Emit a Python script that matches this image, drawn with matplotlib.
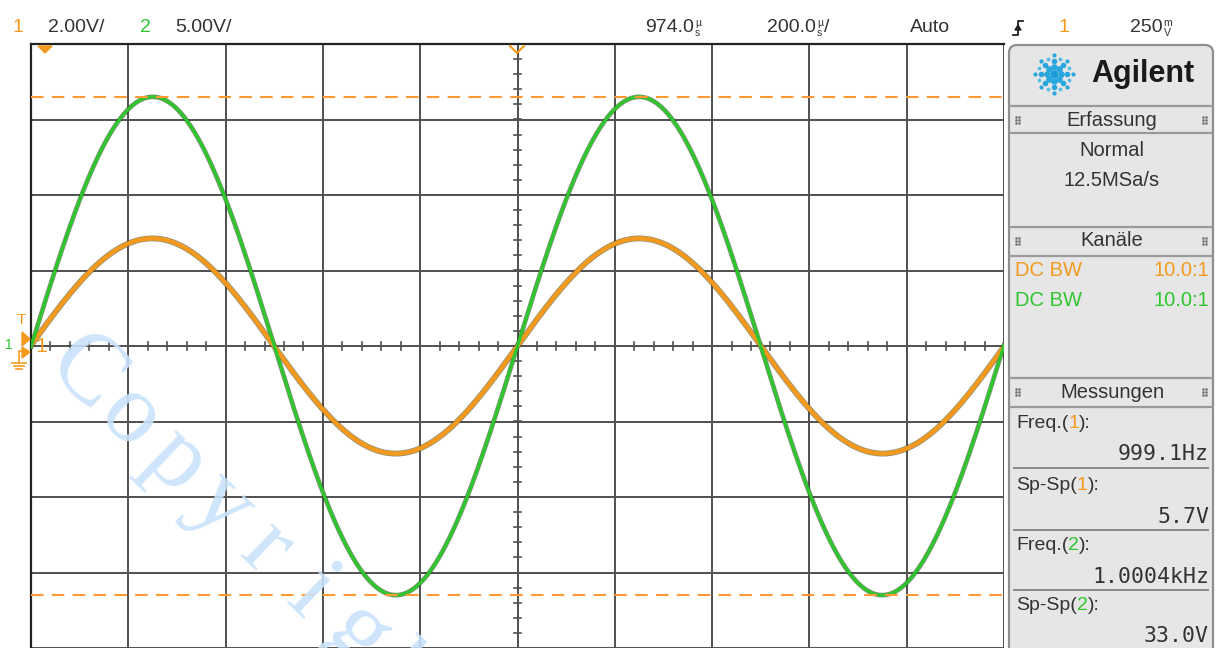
import numpy as np
import matplotlib
matplotlib.use("Agg")
import matplotlib.pyplot as plt
from matplotlib.patches import FancyBboxPatch, Polygon

# --- Kanal-Einstellungen und Messwerte
channels = ["1", "2"]
volts_per_div = [2.00, 5.00]
freq_hz = [999.1, 1000.4]
sp_sp = [5.7, 33.0]
freq_labels = ["999.1Hz", "1.0004kHz"]
sp_sp_labels = ["5.7V", "33.0V"]
probe = ["10.0:1", "10.0:1"]
time_per_div_us = 200.0
delay_label = "974.0"
trig_level = "250"

ORANGE = "#f39a1e"
GREEN = "#2fc52f"
TXT = "#333333"
GRID = "#505050"

W, H = 1216, 648
fig = plt.figure(figsize=(W / 100, H / 100), dpi=100)
fig.patch.set_facecolor("white")

# --- Bildschirm (10 x 8 Raster)
top_px, left_px, right_px = 44, 31, 1004
y_bottom = 4 - (H - top_px) / 75.7
ax = fig.add_axes([left_px / W, 0, (right_px - left_px) / W, (H - top_px) / H])
half = 5 * time_per_div_us
ax.set_xlim(-half, half)
ax.set_ylim(y_bottom, 4)
ax.set_xticks(np.arange(-half, half + 1, time_per_div_us))
ax.set_yticks(np.arange(-4, 5, 1))
ax.grid(True, color=GRID, lw=1.4)
ax.tick_params(length=0, labelbottom=False, labelleft=False)
for s in ["right", "bottom"]:
    ax.spines[s].set_visible(False)
for s in ["left", "top"]:
    ax.spines[s].set_color("#222222")
    ax.spines[s].set_linewidth(1.6)

# Feinteilung auf den Mittelachsen
for xm in np.arange(-half, half + 1, time_per_div_us / 5):
    ax.plot([xm, xm], [-0.055, 0.055], color=GRID, lw=1.2, zorder=2)
for ym in np.arange(-4, 4.01, 0.2):
    ax.plot([-8, 8], [ym, ym], color=GRID, lw=1.2, zorder=2)

# Kurven
t = np.linspace(-half, half, 3000)
for ch, col, lw in zip(range(2), [ORANGE, GREEN], [3.2, 2.4]):
    amp = sp_sp[ch] / 2 / volts_per_div[ch]
    y = amp * np.sin(2 * np.pi * freq_hz[ch] * t * 1e-6)
    ax.plot(t, y, color="#2a3514", lw=lw + 1.0, alpha=0.55, zorder=3)
    ax.plot(t, y, color=col, lw=lw, zorder=4)

# Messgrenzen Sp-Sp(2)
lim = sp_sp[1] / 2 / volts_per_div[1]
for yl in [lim, -lim]:
    ax.axhline(yl, color="#ff9933", lw=1.5, dashes=(6, 4), zorder=5)

# --- Overlay in Pixelkoordinaten fuer Beschriftung und Anzeigefeld
ov = fig.add_axes([0, 0, 1, 1], zorder=10)
ov.set_xlim(0, W)
ov.set_ylim(H, 0)
ov.axis("off")
ov.patch.set_alpha(0)

font = "Liberation Sans"
mono = "DejaVu Sans Mono"
renderer = fig.canvas.get_renderer()


def txt(x, y, s, color=TXT, size=14, ha="left", fam=font, **kw):
    return ov.text(x, y, s, color=color, fontsize=size, ha=ha, va="center",
                   family=fam, **kw)


def right_edge(artist):
    bb = artist.get_window_extent(renderer=renderer)
    return ov.transData.inverted().transform((bb.x1, bb.y0))[0]


def pieces(x, y, parts, size=14, fam=font):
    # Teile nebeneinander; ein Tupel (oben, unten) ergibt eine gestapelte Einheit
    for s, col in parts:
        if isinstance(s, tuple):
            a = txt(x + 1, y - 5, s[0], color=col, size=7.5)
            b = txt(x + 1, y + 5, s[1], color=col, size=7.5)
            x = max(right_edge(a), right_edge(b)) + 1
        else:
            x = right_edge(txt(x, y, s, color=col, size=size, fam=fam))


# Kopfzeile
txt(12, 28, channels[0], color=ORANGE)
txt(48, 28, f"{volts_per_div[0]:.2f}V/")
txt(140, 28, channels[1], color=GREEN)
txt(175, 28, f"{volts_per_div[1]:.2f}V/")
pieces(645, 28, [(delay_label, TXT), (("µ", "s"), TXT)])
pieces(767, 28, [(f"{time_per_div_us:.1f}", TXT), (("µ", "s"), TXT), ("/", TXT)])
txt(910, 28, "Auto")
ov.plot([1013, 1018, 1018, 1023], [35, 35, 21, 21], color="#222222", lw=1.3)
ov.add_patch(Polygon([[1015, 30], [1021, 30], [1018, 25]], closed=True, color="#222222"))
txt(1058, 28, channels[0], color=ORANGE)
pieces(1130, 28, [(trig_level, TXT), (("m", "V"), TXT)])

# Marker am Bildschirmrand
ov.add_patch(Polygon([[38, 46], [52, 46], [45, 53]], closed=True, color=ORANGE))
ov.plot([510, 517, 524], [46, 53, 46], color=ORANGE, lw=1.5)
txt(17, 320, "T", color=ORANGE, size=11)
ov.add_patch(Polygon([[22, 332], [30, 339], [22, 346]], closed=True, color=ORANGE))
ov.add_patch(Polygon([[22, 347], [30, 352], [22, 358]], closed=True, color=ORANGE))
txt(35, 347, "1", color=ORANGE, size=15)
txt(5, 345, "1", color=GREEN, size=10)
ov.plot([22, 19, 19], [351, 351, 362], color=ORANGE, lw=1.2)
for i, w in enumerate([7, 5, 3]):
    ov.plot([19 - w, 19 + w], [363 + 3 * i, 363 + 3 * i], color=ORANGE, lw=1.2)

# --- Anzeigefeld rechts
PANEL = "#e6e6e6"
ov.add_patch(FancyBboxPatch((1009, 45), 204, 620, boxstyle="round,pad=0,rounding_size=8",
                            fc=PANEL, ec="#8f8f8f", lw=1.6))

# Agilent-Logo
cx, cy = 1054, 74
ov.scatter([cx], [cy], s=22, color="#1a9ad6", zorder=12)
for a in np.arange(0, 360, 45):
    r = np.deg2rad(a)
    for d, s in [(7, 14), (13, 9), (19, 4)]:
        ov.scatter([cx + d * np.cos(r)], [cy + d * np.sin(r)], s=s, color="#27a7de", zorder=12)
for a in np.arange(22.5, 360, 45):
    r = np.deg2rad(a)
    ov.scatter([cx + 16 * np.cos(r)], [cy + 16 * np.sin(r)], s=3, color="#55bde6", zorder=12)
txt(1091, 74, "Agilent", color="#1a1a1a", size=22, weight="bold")

for yl in [106, 133, 227, 256, 378, 407]:
    ov.plot([1010, 1212], [yl, yl], color="#9a9a9a", lw=1.6)


def grip(x, y):
    for dx in (0, 3):
        for dy in (-3, 0, 3):
            ov.scatter([x + dx], [y + dy], s=0.8, color="#777777")


for yh, label in [(120, "Erfassung"), (241, "Kanäle"), (392, "Messungen")]:
    grip(1016, yh)
    grip(1203, yh)
    txt(1112, yh, label, ha="center", size=14.5)

txt(1112, 151, "Normal", ha="center", size=14.5)
txt(1112, 181, "12.5MSa/s", ha="center", size=14.5)

for i, (yy, col) in enumerate([(270, ORANGE), (300, GREEN)]):
    txt(1015, yy, "DC BW", color=col, size=14.5)
    txt(1209, yy, probe[i], color=col, size=14.5, ha="right")

rows = [423, 486, 546, 605]
for ch in range(2):
    col = [ORANGE, GREEN][ch]
    y0 = rows[2 * ch]
    y1 = rows[2 * ch + 1]
    pieces(1016, y0, [("Freq.(", TXT), (channels[ch], col), ("):", TXT)])
    txt(1209, y0 + 31, freq_labels[ch], fam=mono, size=15.5, ha="right")
    pieces(1016, y1, [("Sp-Sp(", TXT), (channels[ch], col), ("):", TXT)])
    txt(1209, y1 + 31, sp_sp_labels[ch], fam=mono, size=15.5, ha="right")
for yl in [468, 530, 590]:
    ov.plot([1014, 1208], [yl, yl], color="#8a8a8a", lw=1.4)

# Wasserzeichen, Buchstaben einzeln mit festem Abstand
word = "Copyright"
ang = np.deg2rad(44)
bx, by = 68, 392
step = 63
for i, ch in enumerate(word):
    ov.text(bx + i * step * np.cos(ang), by + i * step * np.sin(ang), ch,
            fontsize=72, family="Liberation Serif", color="#c9e2fb",
            rotation=-44, rotation_mode="anchor", ha="center", va="baseline",
            alpha=0.9, zorder=20, clip_on=True)

fig.savefig("out.png", dpi=100)
